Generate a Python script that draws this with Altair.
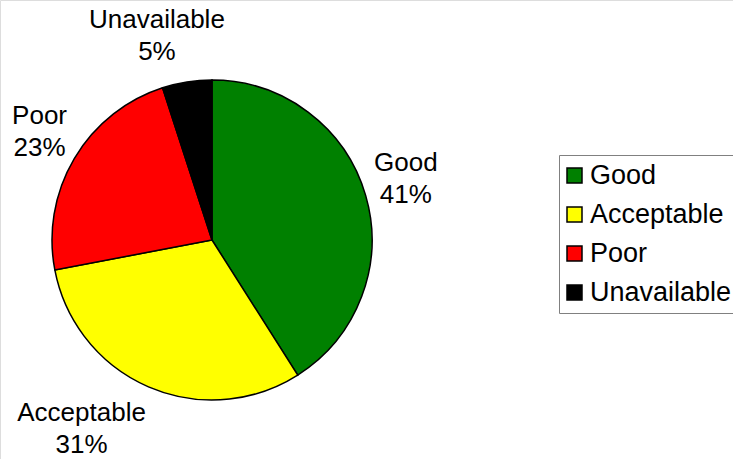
import altair as alt
import pandas as pd

categories = ["Good", "Acceptable", "Poor", "Unavailable"]
percents = [41, 31, 23, 5]
colors = ["#008000", "#FFFF00", "#FF0000", "#000000"]

df = pd.DataFrame({
    "category": categories,
    "pct": percents,
    "idx": list(range(len(categories))),
})
df["label"] = [f"{c}\n{p}%" for c, p in zip(categories, percents)]

FONT = "Liberation Sans"
FS = 26
CX, CY = 212, 240

pie = alt.Chart(df).mark_arc(outerRadius=160, stroke="black", strokeWidth=1.5).encode(
    theta=alt.Theta("pct:Q", stack=True),
    order=alt.Order("idx:Q"),
    x=alt.value(CX),
    y=alt.value(CY),
    color=alt.Color(
        "category:N",
        scale=alt.Scale(domain=categories, range=colors),
        sort=categories,
        legend=alt.Legend(
            title=None,
            orient="none",
            legendX=559,
            legendY=155,
            padding=7,
            strokeColor="#808080",
            fillColor="white",
            symbolType="square",
            symbolSize=225,
            symbolStrokeColor="black",
            symbolStrokeWidth=1.5,
            symbolOpacity=1,
            symbolOffset=-5,
            labelFont=FONT,
            labelFontSize=27,
            labelColor="black",
            labelOffset=2,
            rowPadding=11,
            labelLimit=300,
        ),
    ),
)

lab_base = alt.Chart(df).transform_window(
    cum="sum(pct)", sort=[alt.SortField("idx")]
).transform_calculate(
    mid="datum.cum - datum.pct / 2"
).encode(
    theta=alt.Theta("mid:Q", scale=alt.Scale(domain=[0, 100]), stack=None),
    x=alt.value(CX),
    y=alt.value(CY),
    text="label:N",
)

txt = dict(font=FONT, fontSize=FS, lineBreak="\n", lineHeight=32,
           align="center", baseline="middle", color="black", radius=205)

# per-label nudges (style only)
nudges = {"Good": (-3, -20), "Acceptable": (-49, -15), "Poor": (4, -20), "Unavailable": (-23, -18)}

labels = [
    lab_base.transform_filter(f"datum.category == '{c}'").mark_text(dx=dx, dy=dy, **txt)
    for c, (dx, dy) in nudges.items()
]

chart = alt.layer(pie, *labels).properties(
    width=733, height=459,
    autosize=alt.AutoSizeParams(type="none"),
    padding=0,
).configure_view(stroke=None).configure(background="white")

chart.save("out.html", embed_options={"renderer": "svg", "actions": False})
